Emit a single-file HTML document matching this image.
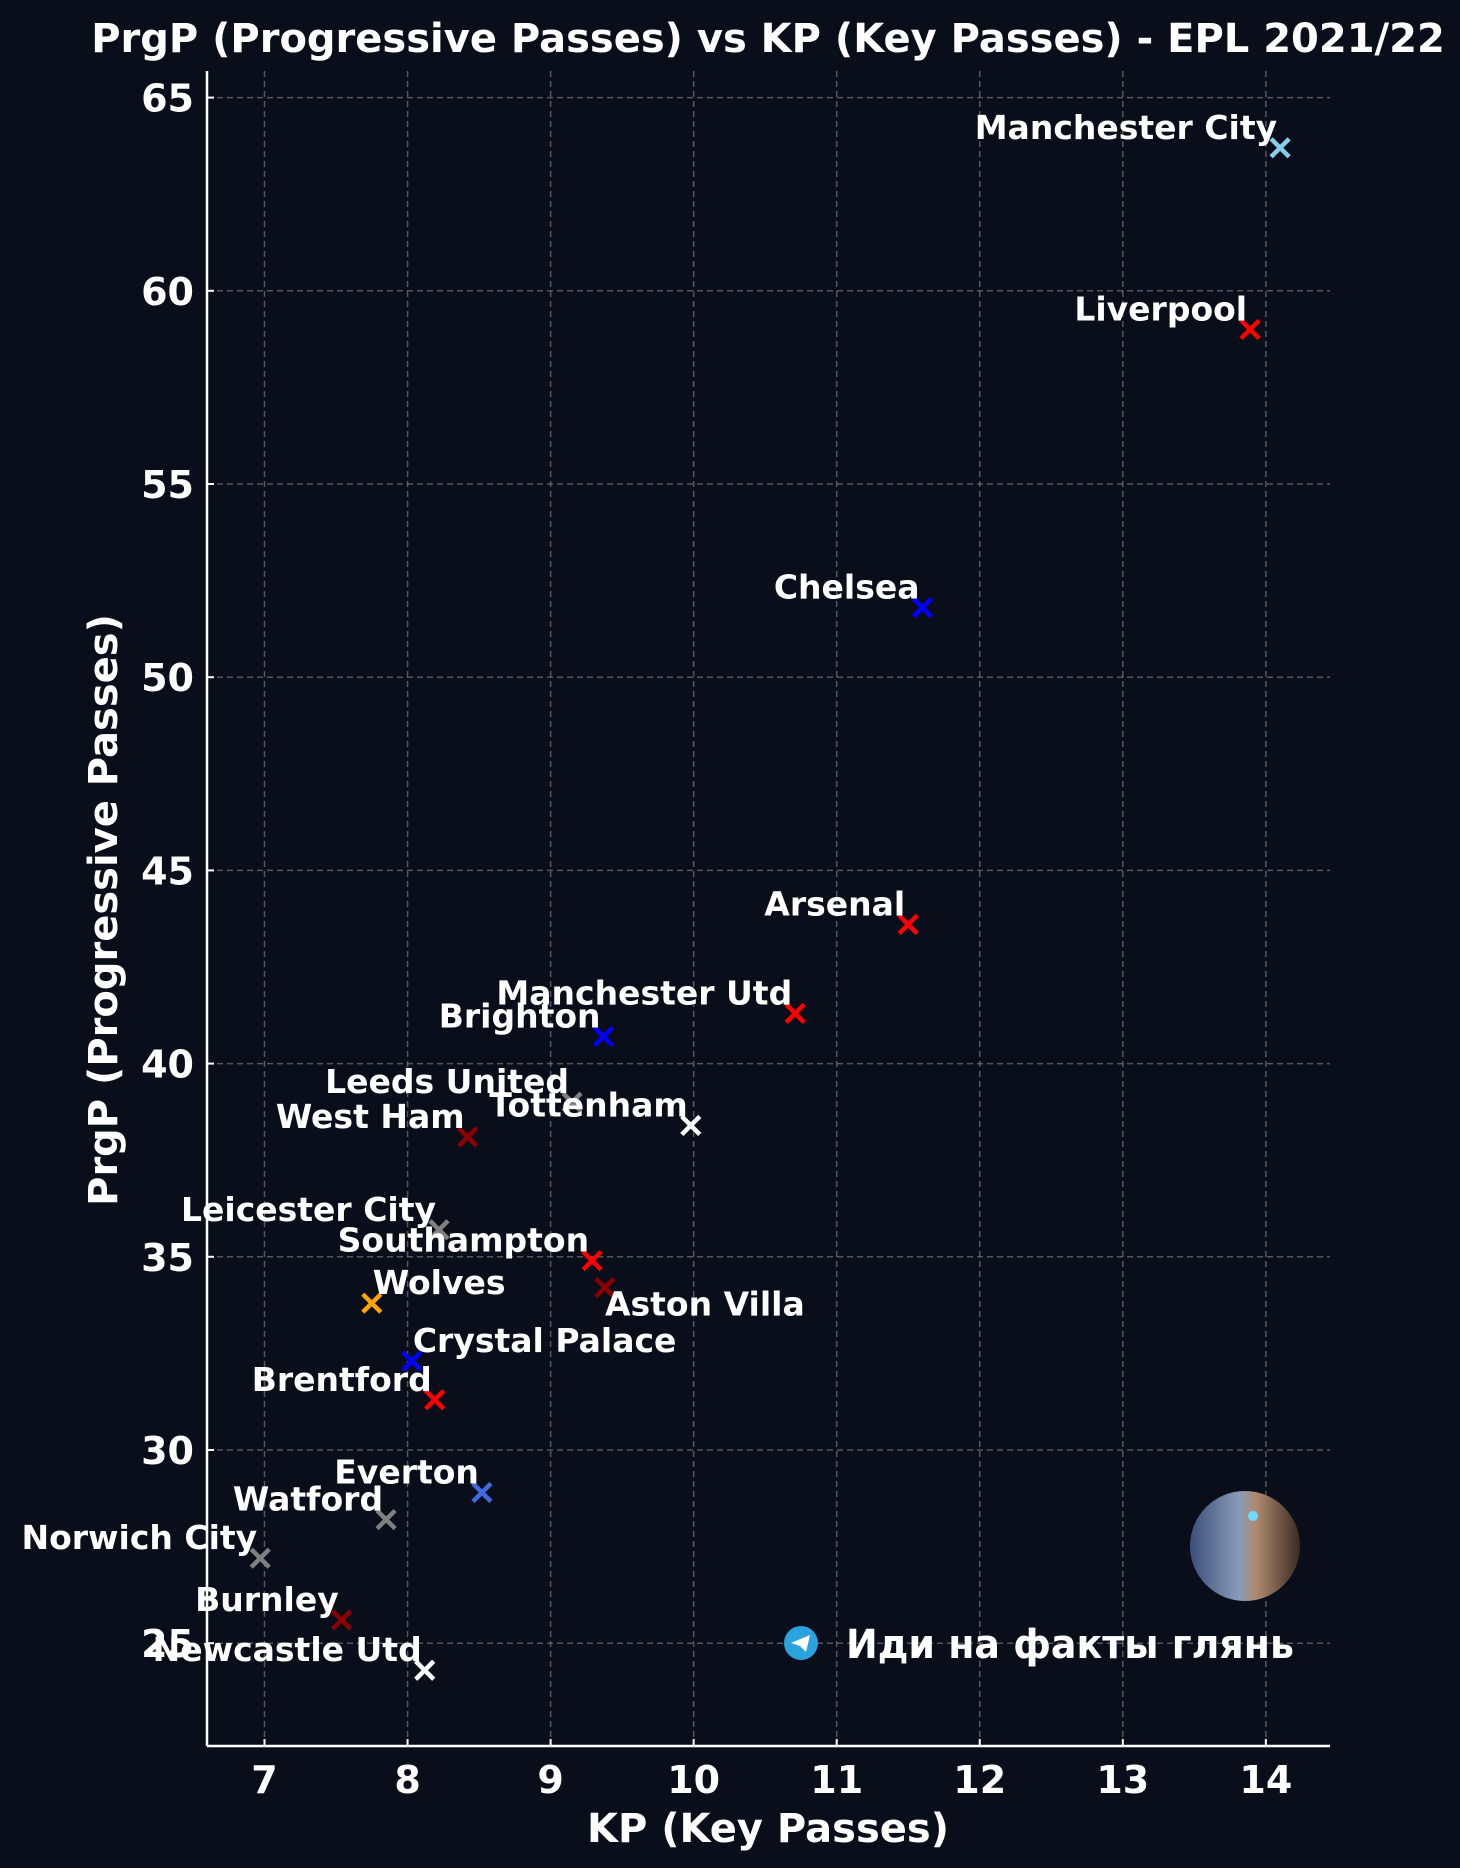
<!DOCTYPE html>
<html><head><meta charset="utf-8"><style>
html,body{margin:0;padding:0;background:#0a0e1a;}
svg{display:block;font-family:"DejaVu Sans","Liberation Sans",sans-serif;font-weight:bold;}
</style></head><body>
<svg id="chart" width="1460" height="1868" viewBox="0 0 1460 1868" xmlns="http://www.w3.org/2000/svg">
<rect width="1460" height="1868" fill="#0a0e1a"/>
<text x="768" y="52" text-anchor="middle" font-size="40" fill="#fff">PrgP (Progressive Passes) vs KP (Key Passes) - EPL 2021/22</text>
<g id="grid"></g><g id="axes"></g><g id="marks"></g>
<text x="768" y="1842" text-anchor="middle" font-size="40" fill="#fff">KP (Key Passes)</text>
<text transform="translate(117,910) rotate(-90)" text-anchor="middle" font-size="40" fill="#fff">PrgP (Progressive Passes)</text>
<g>
<defs><linearGradient id="av" x1="0" y1="0" x2="1" y2="0"><stop offset="0" stop-color="#3a4f7a"/><stop offset="0.45" stop-color="#8a9ab8"/><stop offset="0.6" stop-color="#b08a6e"/><stop offset="1" stop-color="#3a2a22"/></linearGradient></defs>
<circle cx="1245" cy="1546" r="55" fill="url(#av)"/>
<circle cx="1253" cy="1516" r="5" fill="#6fd8ff"/>
<circle cx="801" cy="1643" r="17" fill="#2aa3dc"/>
<path d="M791 1643 L810 1635 L806 1652 L800 1646 Z" fill="#fff"/>
<text x="846" y="1658" font-size="40" fill="#fff" textLength="448" lengthAdjust="spacingAndGlyphs">Иди на факты глянь</text>
</g>
</svg>
<script>
const teams=["Manchester City","Liverpool","Chelsea","Arsenal","Manchester Utd","Brighton","Leeds United","Tottenham","West Ham","Leicester City","Southampton","Aston Villa","Wolves","Crystal Palace","Brentford","Everton","Watford","Norwich City","Burnley","Newcastle Utd"];
const kp=[14.10,13.89,11.60,11.50,10.71,9.37,9.15,9.98,8.42,8.22,9.29,9.38,7.75,8.03,8.19,8.52,7.85,6.97,7.54,8.12];
const prgp=[63.7,59.0,51.8,43.6,41.3,40.7,39.0,38.4,38.1,35.7,34.9,34.2,33.8,32.3,31.3,28.9,28.2,27.2,25.6,24.3];
const colors=["#87ceeb","#ff0000","#0000ff","#ff0000","#ff0000","#0000ff","#808080","#ffffff","#8b0000","#808080","#ff0000","#8b0000","#ffa500","#0000ff","#ff0000","#4169e1","#808080","#808080","#8b0000","#ffffff"];
const xTicks=[7,8,9,10,11,12,13,14];
const yTicks=[25,30,35,40,45,50,55,60,65];
const X=v=>264.5+(v-7)*143.05;
const Y=v=>97.6+(65-v)*38.64;
const NS="http://www.w3.org/2000/svg";
function mk(tag,attrs,parent){const e=document.createElementNS(NS,tag);for(const k in attrs)e.setAttribute(k,attrs[k]);parent.appendChild(e);return e;}
const grid=document.getElementById('grid'),axes=document.getElementById('axes'),marks=document.getElementById('marks');
const L=207,R=1330,T=71,B=1746;
xTicks.forEach(t=>{
 const g=mk('line',{x1:X(t),x2:X(t),y1:T,y2:B,stroke:'#888','stroke-opacity':0.6,'stroke-width':1.5,'stroke-dasharray':'6,4'},grid);
 
 
 mk('line',{x1:X(t),x2:X(t),y1:B,y2:B-7,stroke:'#fff','stroke-width':2},axes);
 const l=mk('text',{x:X(t),y:1793,'text-anchor':'middle','font-size':38,fill:'#fff'},axes);
 l.textContent=t;
 
 
});
yTicks.forEach(t=>{
 const g=mk('line',{x1:L,x2:R,y1:Y(t),y2:Y(t),stroke:'#888','stroke-opacity':0.6,'stroke-width':1.5,'stroke-dasharray':'6,4'},grid);
 
 
 mk('line',{x1:L,x2:L+7,y1:Y(t),y2:Y(t),stroke:'#fff','stroke-width':2},axes);
 const l=mk('text',{x:194,y:Y(t)+14,'text-anchor':'end','font-size':38,fill:'#fff'},axes);
 l.textContent=t;
 
 
});
const sl=mk('line',{x1:L,x2:L,y1:T,y2:B,stroke:'#fff','stroke-width':2.5},axes);


const sb=mk('line',{x1:L,x2:R,y1:B,y2:B,stroke:'#fff','stroke-width':2.5},axes);


const leftAbove=["Wolves","Crystal Palace"];
teams.forEach((n,i)=>{
 const cx=X(kp[i]),cy=Y(prgp[i]),s=9;
 const p=mk('path',{d:`M${cx-s} ${cy-s}L${cx+s} ${cy+s}M${cx-s} ${cy+s}L${cx+s} ${cy-s}`,stroke:colors[i],'stroke-width':4.5},marks);
 
 
 let t;
 if(n==="Aston Villa") t=mk('text',{x:cx,y:cy+28,'text-anchor':'start','font-size':33,fill:'#fff'},marks);
 else if(leftAbove.includes(n)) t=mk('text',{x:cx+1,y:cy-9,'text-anchor':'start','font-size':33,fill:'#fff'},marks);
 else t=mk('text',{x:cx-3,y:cy-9,'text-anchor':'end','font-size':33,fill:'#fff'},marks);
 t.textContent=n;
 
 
});
</script>
</body></html>
